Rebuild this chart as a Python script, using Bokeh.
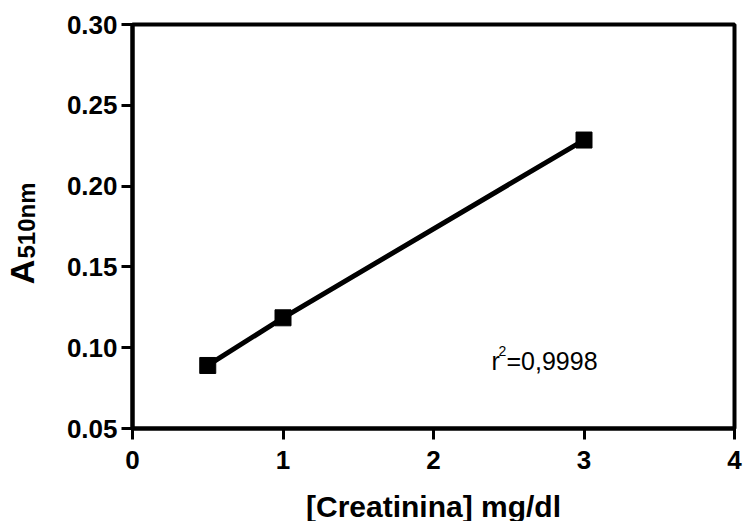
from math import pi
from bokeh.plotting import figure
from bokeh.layouts import row
from bokeh.models import Label, FixedTicker, Range1d
from bokeh.embed import file_html
from bokeh.resources import INLINE

# data
creatinina = [0.5, 1.0, 3.0]          # mg/dl
absorbance = [0.089, 0.1185, 0.2285]  # A510nm
x_ticks = [0, 1, 2, 3, 4]
y_ticks = [0.05, 0.10, 0.15, 0.20, 0.25, 0.30]
y_tick_labels = ["0.05", "0.10", "0.15", "0.20", "0.25", "0.30"]
x_label = "[Creatinina] mg/dl"
y_label_main = "A"
y_label_sub = "510nm"
r2_text = "=0,9998"

FONT = "Liberation Sans"
H = 521
W_LAB = 45
FRAME_TOP, FRAME_BOTTOM = 24, 428

# ---- narrow strip holding the y-axis title (A with subscript) ----
# its frame is aligned with the main frame by the row layout, so the
# y range is chosen to make data y = H - pixel row
lab = figure(width=W_LAB, height=H,
             x_range=Range1d(0, W_LAB),
             y_range=Range1d(H - FRAME_BOTTOM, H - FRAME_TOP),
             min_border=0, min_border_left=0, min_border_right=0,
             min_border_top=0, min_border_bottom=0,
             x_axis_location=None, y_axis_location=None,
             output_backend="svg", toolbar_location=None,
             background_fill_color="white", border_fill_color="white")
lab.outline_line_color = None
lab.grid.visible = False
lab.add_layout(Label(x=21, y=H - 274, text=y_label_main, angle=pi / 2,
                     text_font=FONT, text_font_style="bold",
                     text_font_size="34px", text_color="black",
                     text_align="center", text_baseline="middle"))
lab.add_layout(Label(x=26, y=H - 222, text=y_label_sub, angle=pi / 2,
                     text_font=FONT, text_font_style="bold",
                     text_font_size="24px", text_color="black",
                     text_align="center", text_baseline="middle"))

# ---- main plot ----
p = figure(frame_width=602, frame_height=FRAME_BOTTOM - FRAME_TOP,
           min_border_left=132 - W_LAB, min_border_right=11,
           min_border_top=FRAME_TOP, min_border_bottom=H - FRAME_BOTTOM,
           x_range=Range1d(0, 4), y_range=Range1d(0.05, 0.30),
           output_backend="svg", toolbar_location=None,
           background_fill_color="white", border_fill_color="white")

p.xgrid.visible = False
p.ygrid.visible = False
p.outline_line_color = "black"
p.outline_line_width = 4
p.outline_line_alpha = 1.0

for ax in (p.xaxis[0], p.yaxis[0]):
    ax.axis_line_width = 4
    ax.axis_line_color = "black"
    ax.major_tick_line_width = 3
    ax.major_tick_line_color = "black"
    ax.major_tick_out = 11
    ax.major_tick_in = 0
    ax.minor_tick_line_color = None
    ax.major_label_text_font = FONT
    ax.major_label_text_font_style = "bold"
    ax.major_label_text_font_size = "26px"
    ax.major_label_text_color = "black"

p.xaxis.ticker = FixedTicker(ticks=x_ticks)
p.yaxis.ticker = FixedTicker(ticks=y_ticks)
p.yaxis.major_label_overrides = {t: l for t, l in zip(y_ticks, y_tick_labels)}
p.xaxis.major_label_standoff = 11
p.yaxis.major_label_standoff = 4

p.xaxis.axis_label = x_label
p.xaxis.axis_label_text_font = FONT
p.xaxis.axis_label_text_font_style = "bold"
p.xaxis.axis_label_text_font_size = "30px"
p.xaxis.axis_label_text_color = "black"
p.xaxis.axis_label_standoff = 18
p.yaxis.axis_label = None

p.line(creatinina, absorbance, line_width=5, line_color="black")
p.scatter(creatinina, absorbance, marker="square", size=16,
          fill_color="black", line_color="black")

# r^2 annotation
p.add_layout(Label(x=359, y=68, x_units="screen", y_units="screen",
                   text="r", text_font=FONT, text_font_size="25px",
                   text_color="black", text_align="left",
                   text_baseline="alphabetic"))
p.add_layout(Label(x=366, y=78, x_units="screen", y_units="screen",
                   text="2", text_font=FONT, text_font_size="14px",
                   text_color="black", text_align="left",
                   text_baseline="alphabetic"))
p.add_layout(Label(x=374, y=68, x_units="screen", y_units="screen",
                   text=r2_text, text_font=FONT, text_font_size="25px",
                   text_color="black", text_align="left",
                   text_baseline="alphabetic"))

layout = row(lab, p, spacing=0)
open("out.html", "w").write(file_html(layout, INLINE))
